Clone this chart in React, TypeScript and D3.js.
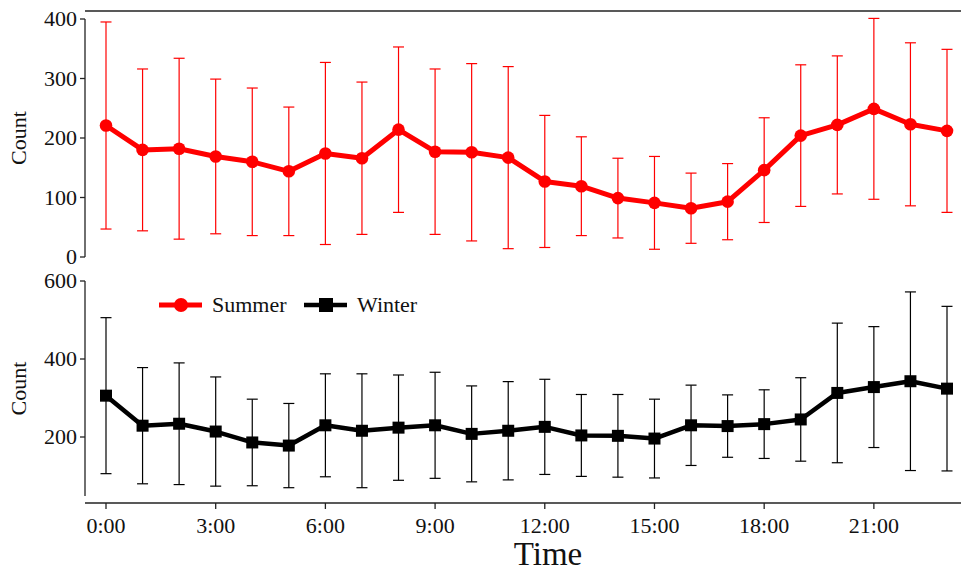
import React from 'react';
import * as d3 from 'd3';

// hours of the day
const hours = d3.range(0, 24);
const hourTicks = [0, 3, 6, 9, 12, 15, 18, 21];

// Summer: mean and SD per hour
const summerMean = [221, 180, 182, 169, 160, 144, 174, 166, 214, 177, 176, 167, 127, 119, 99, 91, 82, 93, 146, 204, 222, 249, 223, 212];
const summerSd = [174, 136, 152, 130, 124, 108, 153, 128, 139, 139, 149, 153, 111, 83, 67, 78, 59, 64, 88, 119, 116, 152, 137, 137];

// Winter: mean and SD per hour
const winterMean = [306, 229, 234, 214, 186, 178, 230, 216, 224, 230, 208, 216, 226, 204, 203, 196, 230, 228, 233, 245, 313, 328, 343, 324];
const winterSd = [200, 149, 156, 140, 111, 108, 132, 146, 135, 136, 123, 126, 122, 105, 106, 101, 103, 80, 88, 107, 179, 155, 229, 211];

const summerTicks = [0, 100, 200, 300, 400];
const winterTicks = [200, 400, 600];

const FONT = '"Liberation Serif", "Times New Roman", serif';
const AXIS = '#222';

export default function App() {
  const width = 961;
  const height = 571;

  const x = d3.scaleLinear().domain([0, 23]).range([106, 947]);
  const yTop = d3.scaleLinear().domain([0, 400]).range([257, 19]);
  const yBot = d3.scaleLinear().domain([200, 600]).range([437, 281]);

  const axisX = 85;
  const capHalf = 5.5;

  const summer = hours.map((h, i) => ({ h, m: summerMean[i], sd: summerSd[i] }));
  const winter = hours.map((h, i) => ({ h, m: winterMean[i], sd: winterSd[i] }));

  const lineTop = d3.line<any>().x(d => x(d.h)).y(d => yTop(d.m));
  const lineBot = d3.line<any>().x(d => x(d.h)).y(d => yBot(d.m));

  const errBars = (data: any[], y: any, color: string) =>
    data.map((d, i) => {
      const cx = x(d.h);
      const y1 = y(d.m + d.sd);
      const y2 = y(d.m - d.sd);
      return (
        <g key={i} stroke={color} strokeWidth={1.2}>
          <line x1={cx} x2={cx} y1={y1} y2={y2} />
          <line x1={cx - capHalf} x2={cx + capHalf} y1={y1} y2={y1} />
          <line x1={cx - capHalf} x2={cx + capHalf} y1={y2} y2={y2} />
        </g>
      );
    });

  const botAxisY = 503;
  const botPanelBottom = 496;

  return (
    <svg width={width} height={height} style={{ position: 'absolute', left: 0, top: 0 }} fontFamily={FONT}>
      <rect width={width} height={height} fill="#fff" />

      {/* top panel */}
      <line x1={axisX} x2={961} y1={11} y2={11} stroke={AXIS} strokeWidth={1.4} />
      <line x1={axisX} x2={axisX} y1={yTop(400)} y2={yTop(0)} stroke={AXIS} strokeWidth={1.3} />
      {summerTicks.map(t => (
        <g key={t}>
          <line x1={axisX - 5} x2={axisX} y1={yTop(t)} y2={yTop(t)} stroke={AXIS} strokeWidth={1.3} />
          <text x={axisX - 8} y={yTop(t)} dy="0.33em" textAnchor="end" fontSize={22} fill="#111">{t}</text>
        </g>
      ))}
      <text transform={`translate(26,${(yTop(0) + yTop(400)) / 2}) rotate(-90)`} textAnchor="middle" fontSize={22} fill="#111">Count</text>

      {errBars(summer, yTop, '#ff0000')}
      <path d={lineTop(summer) || ''} fill="none" stroke="#ff0000" strokeWidth={5} strokeLinejoin="round" />
      {summer.map((d, i) => (
        <circle key={i} cx={x(d.h)} cy={yTop(d.m)} r={6.3} fill="#ff0000" />
      ))}

      {/* bottom panel */}
      <line x1={axisX} x2={axisX} y1={yBot(600)} y2={botPanelBottom} stroke={AXIS} strokeWidth={1.3} />
      {winterTicks.map(t => (
        <g key={t}>
          <line x1={axisX - 5} x2={axisX} y1={yBot(t)} y2={yBot(t)} stroke={AXIS} strokeWidth={1.3} />
          <text x={axisX - 8} y={yBot(t)} dy="0.33em" textAnchor="end" fontSize={22} fill="#111">{t}</text>
        </g>
      ))}
      <text transform={`translate(26,${(yBot(600) + botPanelBottom) / 2}) rotate(-90)`} textAnchor="middle" fontSize={22} fill="#111">Count</text>

      {errBars(winter, yBot, '#000')}
      <path d={lineBot(winter) || ''} fill="none" stroke="#000" strokeWidth={4.5} strokeLinejoin="round" />
      {winter.map((d, i) => (
        <rect key={i} x={x(d.h) - 6} y={yBot(d.m) - 6} width={12} height={12} fill="#000" />
      ))}

      {/* x axis */}
      <line x1={axisX} x2={961} y1={botAxisY} y2={botAxisY} stroke={AXIS} strokeWidth={1.4} />
      {hourTicks.map(t => (
        <g key={t}>
          <line x1={x(t)} x2={x(t)} y1={botAxisY} y2={botAxisY + 6} stroke={AXIS} strokeWidth={1.3} />
          <text x={x(t)} y={533} textAnchor="middle" fontSize={22} fill="#111">{`${t}:00`}</text>
        </g>
      ))}
      <text x={548} y={565} textAnchor="middle" fontSize={33} fill="#111">Time</text>

      {/* legend */}
      <g>
        <line x1={159} x2={202} y1={305} y2={305} stroke="#ff0000" strokeWidth={5} />
        <circle cx={181} cy={305} r={7} fill="#ff0000" />
        <text x={212} y={305} dy="0.33em" fontSize={22} fill="#111">Summer</text>
        <line x1={304} x2={347} y1={305} y2={305} stroke="#000" strokeWidth={4.5} />
        <rect x={319} y={298} width={14} height={14} fill="#000" />
        <text x={357} y={305} dy="0.33em" fontSize={22} fill="#111">Winter</text>
      </g>
    </svg>
  );
}
